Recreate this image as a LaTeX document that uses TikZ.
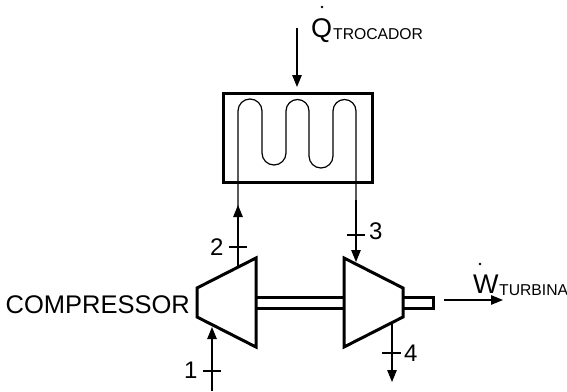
\documentclass[tikz,border=0pt]{standalone}
\usepackage{fontspec}
\setmainfont{Liberation Sans}
\usetikzlibrary{arrows.meta}
\tikzset{
    fluxo/.style={line width=1.2pt, -{Triangle[length=12pt,width=9.5pt]}},
    linha/.style={line width=1.2pt},
    parede/.style={line width=3pt, line join=miter},
    rotulo/.style={inner sep=0pt, anchor=base west, font=\fontsize{24}{24}\selectfont},
    grande/.style={inner sep=0pt, anchor=base west, font=\fontsize{27}{27}\selectfont},
    indice/.style={inner sep=0pt, anchor=base west, font=\fontsize{15.7}{16}\selectfont},
}
\begin{document}
\begin{tikzpicture}[x=1pt, y=-1pt]
\useasboundingbox (0,0) rectangle (567,391);
% trocador
\draw[parede] (223,93) coordinate (a1) rectangle (372,182) coordinate (a2);
\coordinate (calorIn) at (297,28);
\coordinate (calorOut) at (297,87);
\draw[fluxo] (calorIn) -- (calorOut);
\node[grande] (Q) at (311,37) {Q};
\node[indice] (Qsub) at (333,39) {TROCADOR};
\fill (322,7) circle (1.3pt);
% serpentina
\draw[linha] (238,266) -- (238,111) arc[start angle=180, end angle=360, radius=12]
    -- (262,153) arc[start angle=180, end angle=0, radius=12]
    -- (286,111) arc[start angle=180, end angle=360, radius=11.5]
    -- (309,156) arc[start angle=180, end angle=0, radius=12]
    -- (333,111) arc[start angle=180, end angle=360, radius=11.5]
    -- (356,240);
% compressor
\draw[parede] (197,288) coordinate (c1) -- (256,258) coordinate (c2) -- (256,347) coordinate (c3) -- (197,317) coordinate (c4) -- cycle;
\node[rotulo, anchor=base east, font=\fontsize{25.5}{26}\selectfont] (comp) at (190,313) {COMPRESSOR};
% turbina
\draw[parede] (344,258) coordinate (t1) -- (403,288) coordinate (t2) -- (403,317) coordinate (t3) -- (344,347) coordinate (t4) -- cycle;
% eixo
\draw[parede] (c2 |- 0,297) -- (t1 |- 0,297);
\draw[parede] (c2 |- 0,308) -- (t1 |- 0,308);
\draw[parede] (403,297) -- (433,297) -- (433,308) -- (403,308);
% pontos
\coordinate (s2a) at (238,266);
\coordinate (s2b) at (238,205);
\draw[fluxo] (s2a) -- (s2b);
\coordinate (s3a) at (356,200);
\coordinate (s3b) at (356,262);
\draw[fluxo] (s3a) -- (s3b);
\coordinate (s1a) at (212,391);
\coordinate (s1b) at (212,327);
\draw[fluxo] (s1a) -- (s1b);
\coordinate (s4a) at (392,323);
\coordinate (s4b) at (392,382);
\draw[fluxo] (s4a) -- (s4b);
\draw[linha] (203,371) coordinate (m1a) -- (221,371);
\draw[linha] (229,247) coordinate (m2a) -- (247,247);
\draw[linha] (347,235) coordinate (m3a) -- (365,235);
\draw[linha] (382,353) coordinate (m4a) -- (401,353);
\node[rotulo] (n1) at (184,378) {1};
\node[rotulo] (n2) at (210,255) {2};
\node[rotulo] (n3) at (369,239) {3};
\node[rotulo] (n4) at (404,361) {4};
% trabalho
\coordinate (wIn) at (444,300);
\coordinate (wOut) at (503,300);
\draw[fluxo] (wIn) -- (wOut);
\node[grande] (W) at (473,293) {W};
\node[indice] (Wsub) at (499,295) {TURBINA};
\fill (480,264) circle (1.3pt);
\end{tikzpicture}
\end{document}
